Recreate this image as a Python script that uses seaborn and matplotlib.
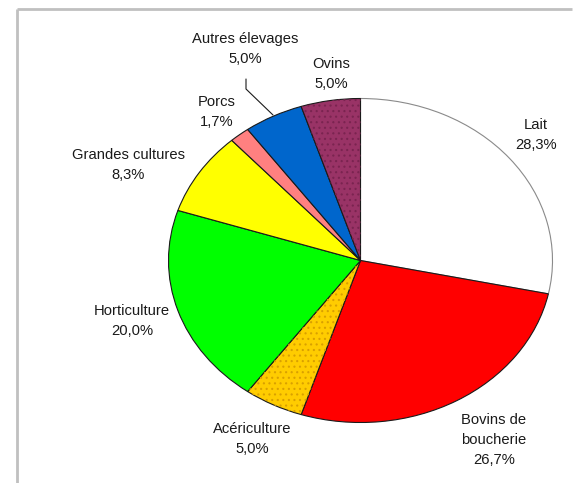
import matplotlib
matplotlib.use("Agg")
import matplotlib.pyplot as plt
from matplotlib.patches import Wedge
import seaborn as sns

sns.set_theme(style="white")
plt.rcParams['font.family'] = ['Liberation Sans', 'DejaVu Sans']
plt.rcParams['hatch.linewidth'] = 0.8

categories = ["Lait", "Bovins de\nboucherie", "Acériculture", "Horticulture",
              "Grandes cultures", "Porcs", "Autres élevages", "Ovins"]
values = [28.3, 26.7, 5.0, 20.0, 8.3, 1.7, 5.0, 5.0]
colors = ["#FFFFFF", "#FF0000", "#FFCC00", "#00FF00", "#FFFF00", "#FF8080", "#0066CC", "#993366"]
dot_colors = [None, None, "#D9A000", None, None, None, None, "#7A2450"]

# label anchor positions in pixels (presentation only)
label_pos = [(536, 135), (494, 440), (252, 439), (132, 321), (128, 165), (217, 112), (245, 49), (331, 74)]

W, H = 581, 483
fig = plt.figure(figsize=(W / 100, H / 100), dpi=100)
fig.patch.set_facecolor("white")

# pie axes = ellipse bounding box
cx, cy, rx, ry = 360.5, 260.5, 192, 162
pax = fig.add_axes([(cx - rx) / W, (H - cy - ry) / H, 2 * rx / W, 2 * ry / H])
wedges, _ = pax.pie(values, colors=colors, startangle=90, counterclock=False,
                    radius=1, wedgeprops=dict(edgecolor="#1a1a1a", linewidth=0.8))
wedges[0].set_edgecolor("#8a8a8a")
for w, dc in zip(wedges, dot_colors):
    if dc:
        ov = Wedge(w.center, w.r, w.theta1, w.theta2, facecolor="none",
                   edgecolor=dc, linewidth=0, hatch="...")
        pax.add_patch(ov)
pax.set_aspect("auto")
pax.set_xlim(-1, 1)
pax.set_ylim(-1, 1)
pax.axis("off")

# overlay axes in pixel coordinates
ox = fig.add_axes([0, 0, 1, 1], facecolor="none")
ox.set_xlim(0, W)
ox.set_ylim(H, 0)
ox.axis("off")

# frame lines
ox.plot([16.5, 16.5], [H, 8.5], color="#C0C0C0", lw=2, solid_capstyle="butt")
ox.plot([16.5, 572], [8.5, 8.5], color="#C0C0C0", lw=2, solid_capstyle="butt")

for cat, val, (x, y) in zip(categories, values, label_pos):
    txt = f"{cat}\n{val:.1f}%".replace(".", ",")
    ox.text(x, y, txt, ha="center", va="center", fontsize=10.6, color="#1a1a1a",
            linespacing=1.58)

# leader line for Autres élevages
ox.plot([246, 246, 273], [79, 89, 115], color="#1a1a1a", lw=0.8)

fig.savefig("out.png", dpi=100, facecolor="white")
